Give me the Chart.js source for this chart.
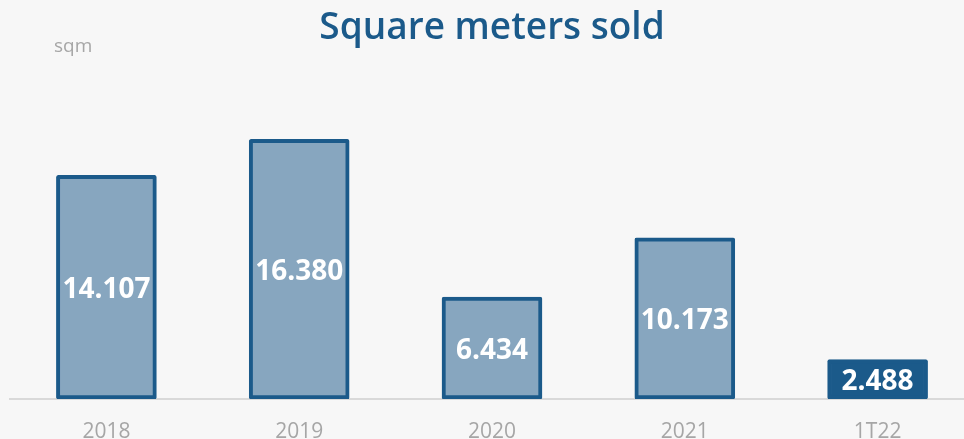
<!DOCTYPE html>
<html lang="en">
<head>
  <meta charset="UTF-8">
  <title>Square meters sold</title>
  <script src="https://cdn.jsdelivr.net/npm/chart.js"></script>
  <style>
    html, body { margin: 0; padding: 0; overflow: hidden; background: #f7f7f7; }
    #wrap { position: absolute; left: 0; top: 0; width: 974px; height: 450px; }
  </style>
</head>
<body>
  <div id="wrap"><canvas id="sqmChart"></canvas></div>

  <script>
    // data
    const periods = ["2018", "2019", "2020", "2021", "1T22"];
    const sqmSold = [14107, 16380, 6434, 10173, 2488];
    const valueLabels = ["14.107", "16.380", "6.434", "10.173", "2.488"];

    const lightBlue = "#87a6bf";
    const darkBlue = "#1b5a8a";
    const grey = "#a6a6a6";

    // white numbers in the middle of each bar, plus the "sqm" unit
    const barLabels = {
      id: "barLabels",
      afterDatasetsDraw(chart) {
        const ctx = chart.ctx;
        const meta = chart.getDatasetMeta(0);
        ctx.save();
        ctx.fillStyle = "#ffffff";
        ctx.font = "bold 28px 'Open Sans'";
        ctx.textAlign = "center";
        ctx.textBaseline = "middle";
        meta.data.forEach((bar, i) => {
          ctx.fillText(valueLabels[i], bar.x, (bar.y + bar.base) / 2 + 3);
        });
        ctx.fillStyle = grey;
        ctx.font = "19px 'Open Sans'";
        ctx.textAlign = "left";
        ctx.fillText("sqm", 54, 47);
        ctx.restore();
      }
    };

    new Chart(document.getElementById("sqmChart"), {
      type: "bar",
      data: {
        labels: periods,
        datasets: [{
          label: "sqm",
          data: sqmSold,
          backgroundColor: sqmSold.map((v, i) => i === sqmSold.length - 1 ? darkBlue : lightBlue),
          borderColor: darkBlue,
          borderWidth: 4,
          borderSkipped: false,
          borderRadius: 2,
          barThickness: 100
        }]
      },
      options: {
        responsive: true,
        maintainAspectRatio: false,
        animation: false,
        layout: { padding: { left: 10, top: 6 } },
        plugins: {
          legend: { display: false },
          tooltip: { enabled: false },
          title: {
            display: true,
            text: "Square meters sold",
            color: darkBlue,
            font: { family: "'Open Sans'", size: 37, weight: 600, lineHeight: 1.2 },
            padding: { top: 0, bottom: 34 }
          }
        },
        scales: {
          x: {
            grid: { display: false },
            border: { display: true, color: "#d9d9d9", width: 2 },
            ticks: { color: grey, font: { family: "'Open Sans'", size: 21 }, padding: 12 },
            afterFit(scale) { scale.height = 51; }
          },
          y: {
            display: false,
            min: 0,
            max: 19850
          }
        }
      },
      plugins: [barLabels]
    });
  </script>
</body>
</html>
